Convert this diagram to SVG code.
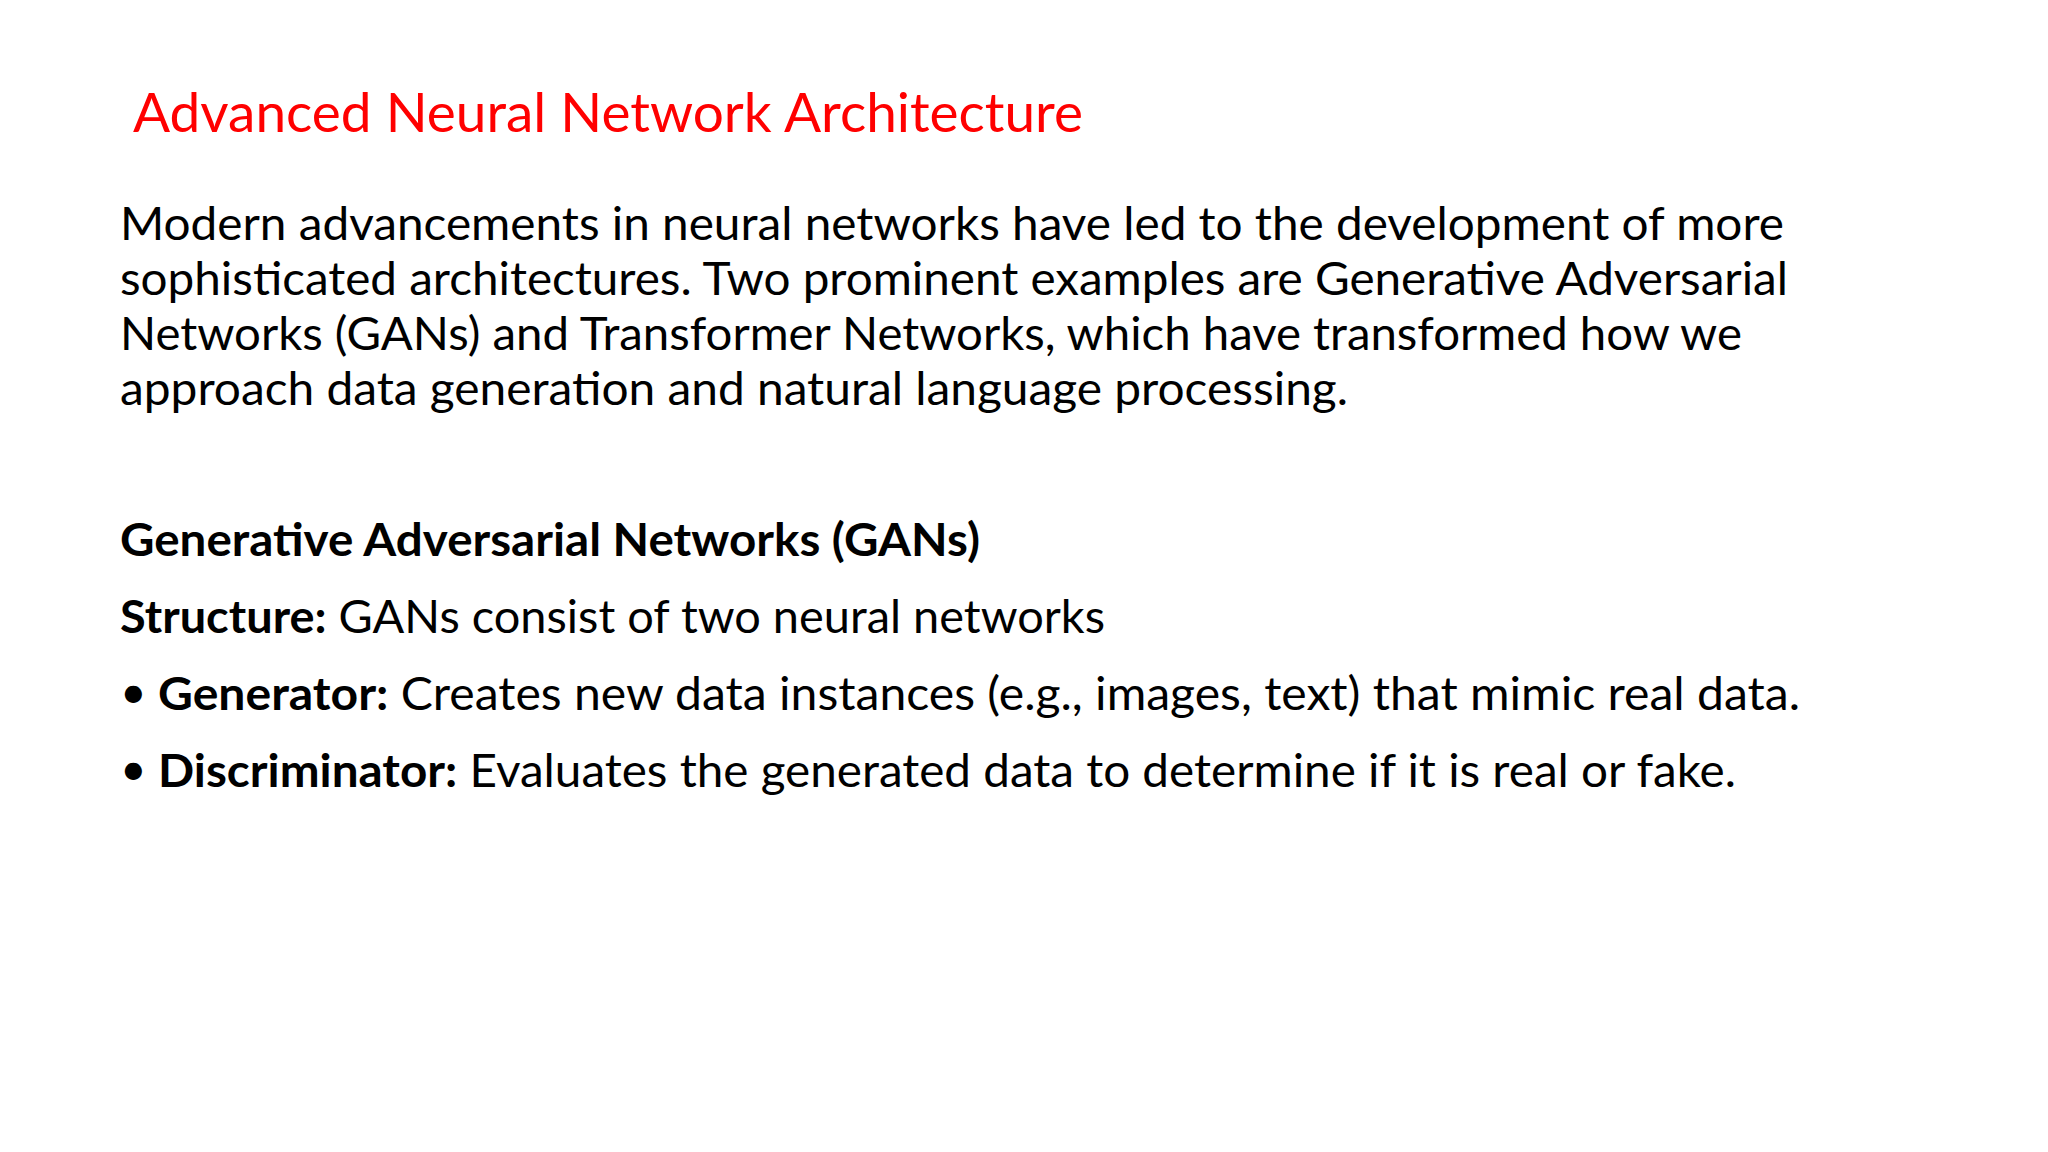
<svg xmlns="http://www.w3.org/2000/svg" width="2048" height="1152" viewBox="0 0 2048 1152">
<style>
text{font-family:Lato,"Open Sans","Liberation Sans",sans-serif;fill:#000;font-size:46px}
.t{fill:#ff0000;font-size:54px}
.b{font-weight:bold}
</style>
<rect width="2048" height="1152" fill="#fff"/>
<text class="t" x="133" y="132" textLength="950" lengthAdjust="spacingAndGlyphs">Advanced  Neural Network Architecture</text>
<text x="120" y="240" textLength="1664" lengthAdjust="spacingAndGlyphs">Modern advancements in neural networks have led to the development of more</text>
<text x="120" y="295" textLength="1668" lengthAdjust="spacingAndGlyphs">sophisticated architectures. Two prominent examples are Generative Adversarial</text>
<text x="120" y="350" textLength="1622" lengthAdjust="spacingAndGlyphs">Networks (GANs) and Transformer Networks, which have transformed how we</text>
<text x="120" y="405" textLength="1228" lengthAdjust="spacingAndGlyphs">approach data generation and natural language processing.</text>
<text class="b" x="120" y="556" textLength="860" lengthAdjust="spacingAndGlyphs">Generative Adversarial Networks (GANs)</text>
<text x="120" y="633" textLength="985" lengthAdjust="spacingAndGlyphs"><tspan class="b">Structure:</tspan> GANs consist of two neural networks</text>
<text x="120" y="708">•</text>
<text x="158" y="710" textLength="1642" lengthAdjust="spacingAndGlyphs"><tspan class="b">Generator:</tspan> Creates new data instances (e.g., images, text) that mimic real data.</text>
<text x="120" y="785">•</text>
<text x="158" y="787" textLength="1578" lengthAdjust="spacingAndGlyphs"><tspan class="b">Discriminator:</tspan> Evaluates the generated data to determine if it is real or fake.</text>
</svg>
